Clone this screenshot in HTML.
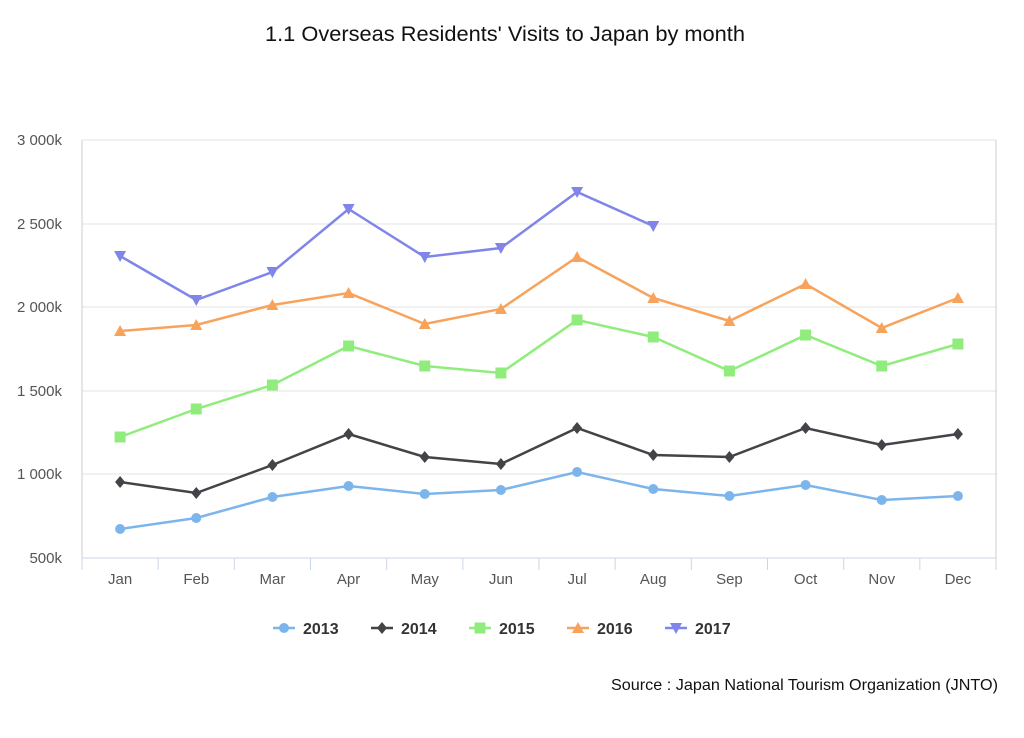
<!DOCTYPE html>
<html><head><meta charset="utf-8"><style>
body{margin:0;background:#fff;width:1024px;height:733px;overflow:hidden}
svg text{font-family:"Liberation Sans",sans-serif}
</style></head><body>
<svg id="c" width="1024" height="733" xmlns="http://www.w3.org/2000/svg">
<text x="505" y="41" text-anchor="middle" font-size="21.5" fill="#111" textLength="480" lengthAdjust="spacingAndGlyphs">1.1 Overseas Residents' Visits to Japan by month</text>
<text x="998" y="690" text-anchor="end" font-size="16" fill="#111" textLength="387" lengthAdjust="spacingAndGlyphs">Source : Japan National Tourism Organization (JNTO)</text>
</svg>
<script>
var s=document.getElementById('c'),h='';
var L=82,R=996,T=140,B=558;
var ys=[[140,'3 000k'],[224,'2 500k'],[307,'2 000k'],[391,'1 500k'],[474,'1 000k'],[558,'500k']];
ys.forEach(function(a){h+='<line x1="'+L+'" x2="'+R+'" y1="'+a[0]+'" y2="'+a[0]+'" stroke="#e3e3e3" stroke-width="1"/>';
h+='<text x="62" y="'+(a[0]+5)+'" text-anchor="end" font-size="15" fill="#555">'+a[1]+'</text>';});
h+='<line x1="'+L+'" x2="'+L+'" y1="'+T+'" y2="'+B+'" stroke="#ccc"/><line x1="'+R+'" x2="'+R+'" y1="'+T+'" y2="'+B+'" stroke="#ccc"/>';
h+='<line x1="'+L+'" x2="'+R+'" y1="'+B+'" y2="'+B+'" stroke="#ccd6eb"/>';
var m=['Jan','Feb','Mar','Apr','May','Jun','Jul','Aug','Sep','Oct','Nov','Dec'],w=(R-L)/12;
for(var i=0;i<=12;i++)h+='<line x1="'+(L+i*w)+'" x2="'+(L+i*w)+'" y1="'+B+'" y2="'+(B+12)+'" stroke="#ccd6eb"/>';
m.forEach(function(t,i){h+='<text x="'+(L+w*(i+.5))+'" y="584" text-anchor="middle" font-size="15" fill="#555">'+t+'</text>';});
var D=[['#7cb5ec','c',[529,518,497,486,494,490,472,489,496,485,500,496]],
['#434348','d',[482,493,465,434,457,464,428,455,457,428,445,434]],
['#90ed7d','s',[437,409,385,346,366,373,320,337,371,335,366,344]],
['#f7a35c','t',[331,325,305,293,324,309,257,298,321,284,328,298]],
['#8085e9','v',[256,300,272,209,257,248,192,226]]];
function mk(k,x,y,c){
 if(k=='c')return '<circle cx="'+x+'" cy="'+y+'" r="5" fill="'+c+'"/>';
 if(k=='d')return '<polygon points="'+x+','+(y-6)+' '+(x+5)+','+y+' '+x+','+(y+6)+' '+(x-5)+','+y+'" fill="'+c+'"/>';
 if(k=='s')return '<rect x="'+(x-5.5)+'" y="'+(y-5.5)+'" width="11" height="11" fill="'+c+'"/>';
 if(k=='t')return '<polygon points="'+x+','+(y-6)+' '+(x+6)+','+(y+5)+' '+(x-6)+','+(y+5)+'" fill="'+c+'"/>';
 return '<polygon points="'+x+','+(y+6)+' '+(x+6)+','+(y-5)+' '+(x-6)+','+(y-5)+'" fill="'+c+'"/>';}
D.forEach(function(d){var p=d[2].map(function(y,i){return (L+w*(i+.5))+','+y;}).join(' ');
h+='<polyline points="'+p+'" fill="none" stroke="'+d[0]+'" stroke-width="2.5"/>';
d[2].forEach(function(y,i){h+=mk(d[1],L+w*(i+.5),y,d[0]);});});
var lx=[273,371,469,567,665];
D.forEach(function(d,i){var x=lx[i];h+='<line x1="'+x+'" x2="'+(x+22)+'" y1="628" y2="628" stroke="'+d[0]+'" stroke-width="2.5"/>'+mk(d[1],x+11,628,d[0]);
h+='<text x="'+(x+30)+'" y="634" font-size="16" font-weight="bold" fill="#333">'+(2013+i)+'</text>';});
s.insertAdjacentHTML('beforeend',h);
</script>
</body></html>
